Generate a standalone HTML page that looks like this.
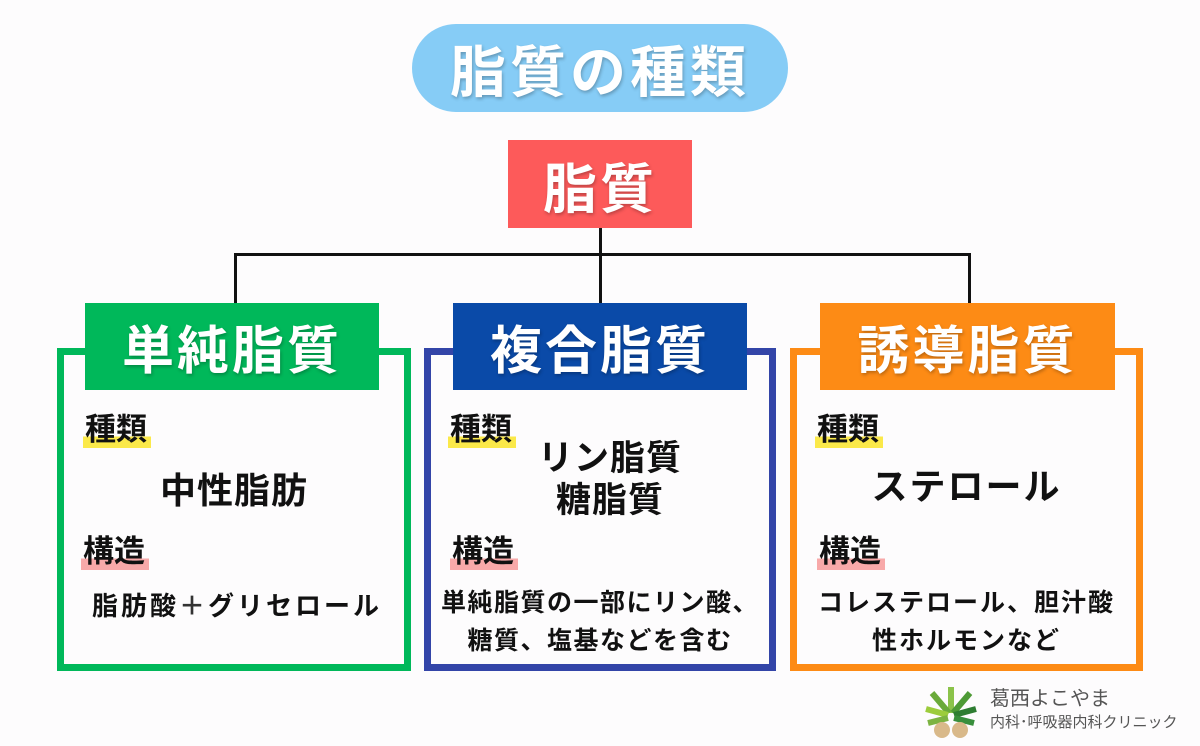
<!DOCTYPE html>
<html><head><meta charset="utf-8"><style>
body{margin:0;width:1200px;height:746px;background:#fdfcfd;position:relative;overflow:hidden;font-family:"Liberation Sans","Noto Sans CJK JP",sans-serif;}
.a{position:absolute;box-sizing:border-box;}
.w{color:#fff;font-weight:bold;display:flex;align-items:center;justify-content:center;text-shadow:1px 2px 3px rgba(0,0,0,.25);}
.ln{position:absolute;background:#111;}
.frame{position:absolute;box-sizing:border-box;border:7px solid;}
.hd{position:absolute;font-size:31px;font-weight:bold;color:#111;line-height:36px;padding:0 4px 0 2px;}
.y{background:linear-gradient(transparent 68%,#fbe94a 68%);}
.p{background:linear-gradient(transparent 68%,#f8a9a9 68%);}
.t{position:absolute;color:#111;font-weight:bold;text-align:center;}
</style></head><body>
<div class="a w" style="left:412px;top:24px;width:376px;height:88px;border-radius:44px;background:#86ccf6;font-size:56px;letter-spacing:4px;">脂質の種類</div>
<div class="a w" style="left:508px;top:140px;width:184px;height:88px;background:#fd5a5a;font-size:54px;letter-spacing:3px;">脂質</div>
<div class="ln" style="left:599px;top:228px;width:3px;height:76px"></div>
<div class="ln" style="left:234px;top:253px;width:737px;height:3px"></div>
<div class="ln" style="left:234px;top:253px;width:3px;height:51px"></div>
<div class="ln" style="left:968px;top:253px;width:3px;height:51px"></div>

<div class="frame" style="left:57px;top:348px;width:354px;height:323px;border-color:#00b85a"></div>
<div class="a w" style="left:85px;top:303px;width:294px;height:87px;background:#00b85a;font-size:52px;letter-spacing:3px;">単純脂質</div>
<div class="hd y" style="left:83px;top:412px">種類</div>
<div class="t" style="left:57px;top:462px;width:354px;font-size:36px;letter-spacing:1px">中性脂肪</div>
<div class="hd p" style="left:81px;top:534px">構造</div>
<div class="t" style="left:60px;top:586px;width:354px;font-size:26px;letter-spacing:3px">脂肪酸<span style="color:#333">＋</span>グリセロール</div>

<div class="frame" style="left:424px;top:348px;width:352px;height:323px;border-color:#3345a8"></div>
<div class="a w" style="left:453px;top:303px;width:294px;height:87px;background:#0a4aa8;font-size:52px;letter-spacing:3px;">複合脂質</div>
<div class="hd y" style="left:448px;top:412px">種類</div>
<div class="t" style="left:434px;top:438px;width:352px;font-size:35px;line-height:42px;letter-spacing:1px">リン脂質<br>糖脂質</div>
<div class="hd p" style="left:450px;top:534px">構造</div>
<div class="t" style="left:424px;top:584px;width:352px;font-size:25px;line-height:38px;letter-spacing:1.5px">単純脂質の一部にリン酸、<br>糖質、塩基などを含む</div>

<div class="frame" style="left:790px;top:348px;width:353px;height:323px;border-color:#fd8b15"></div>
<div class="a w" style="left:820px;top:303px;width:295px;height:87px;background:#fd8b15;font-size:52px;letter-spacing:3px;">誘導脂質</div>
<div class="hd y" style="left:815px;top:412px">種類</div>
<div class="t" style="left:790px;top:458px;width:353px;font-size:36px;letter-spacing:2px">ステロール</div>
<div class="hd p" style="left:817px;top:534px">構造</div>
<div class="t" style="left:790px;top:584px;width:353px;font-size:25px;line-height:38px;letter-spacing:2px">コレステロール、胆汁酸<br>性ホルモンなど</div>

<svg class="a" style="left:922px;top:683px" width="58" height="56" viewBox="0 0 58 56">
<g stroke-width="6" stroke-linecap="butt">
<line x1="29" y1="30" x2="29" y2="4" stroke="#8bc34a"/>
<line x1="27" y1="30" x2="10" y2="10" stroke="#6aaa3a"/>
<line x1="31" y1="30" x2="48" y2="10" stroke="#4e9a36"/>
<line x1="26" y1="32" x2="4" y2="26" stroke="#9ccc3c"/>
<line x1="32" y1="32" x2="54" y2="26" stroke="#2e7d32"/>
<line x1="26" y1="35" x2="6" y2="40" stroke="#7cb342"/>
<line x1="32" y1="35" x2="52" y2="40" stroke="#388e3c"/>
</g>
<ellipse cx="20" cy="47" rx="8" ry="8" fill="#d9b98a"/><ellipse cx="38" cy="47" rx="8" ry="8" fill="#d9b98a"/>
</svg>
<div class="a" style="left:990px;top:688px;font-size:20px;color:#555;line-height:22px">葛西よこやま</div>
<div class="a" style="left:990px;top:714px;font-size:15px;color:#555;line-height:18px">内科･呼吸器内科クリニック</div>
</body></html>
